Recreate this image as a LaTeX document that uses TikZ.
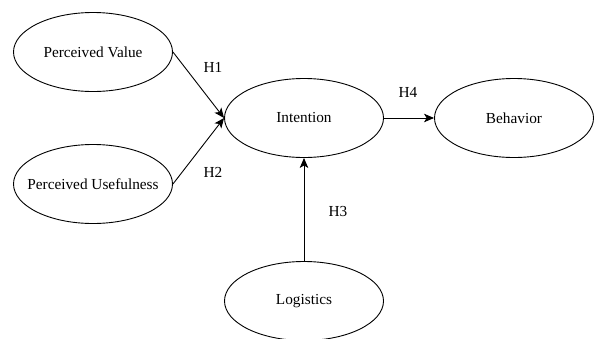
\documentclass[tikz,border=0pt]{standalone}
\usepackage{fontspec}
\setmainfont{Liberation Serif}
\usetikzlibrary{shapes.geometric,arrows.meta}
\newcommand\ctext[1]{\makebox[0pt]{#1}}
\begin{document}
\begin{tikzpicture}[x=1pt,y=-1pt,
  construct/.style={draw=black,line width=0.9pt,ellipse,inner sep=0pt,minimum width=159pt,minimum height=79pt,font=\fontsize{15.3}{17}\selectfont},
  hyp/.style={font=\fontsize{15.3}{17}\selectfont,inner sep=0pt},
  link/.style={draw=black,line width=0.9pt,-{Stealth[length=10pt,width=8.5pt,inset=2.5pt]}}]
\useasboundingbox[fill=white] (0,0) rectangle (594,338);
\node[construct] (pv) at (93,52) {\ctext{Perceived Value}};
\node[construct] (pu) at (93,184) {\ctext{Perceived Usefulness}};
\node[construct] (int) at (304,118) {\ctext{Intention}};
\node[construct] (beh) at (514,118) {\ctext{Behavior}};
\node[construct] (log) at (304,301) {\ctext{Logistics}};
\draw[link] (pv.east) -- (int.west);
\draw[link] (pu.east) -- (int.west);
\draw[link] (int.east) -- (beh.west);
\draw[link] (log.north) -- (int.south);
\node[hyp] (h1) at (213,67) {H1};
\node[hyp] (h2) at (213,172) {H2};
\node[hyp] (h4) at (408,92) {H4};
\node[hyp] (h3) at (338,212) {H3};
\end{tikzpicture}
\end{document}
